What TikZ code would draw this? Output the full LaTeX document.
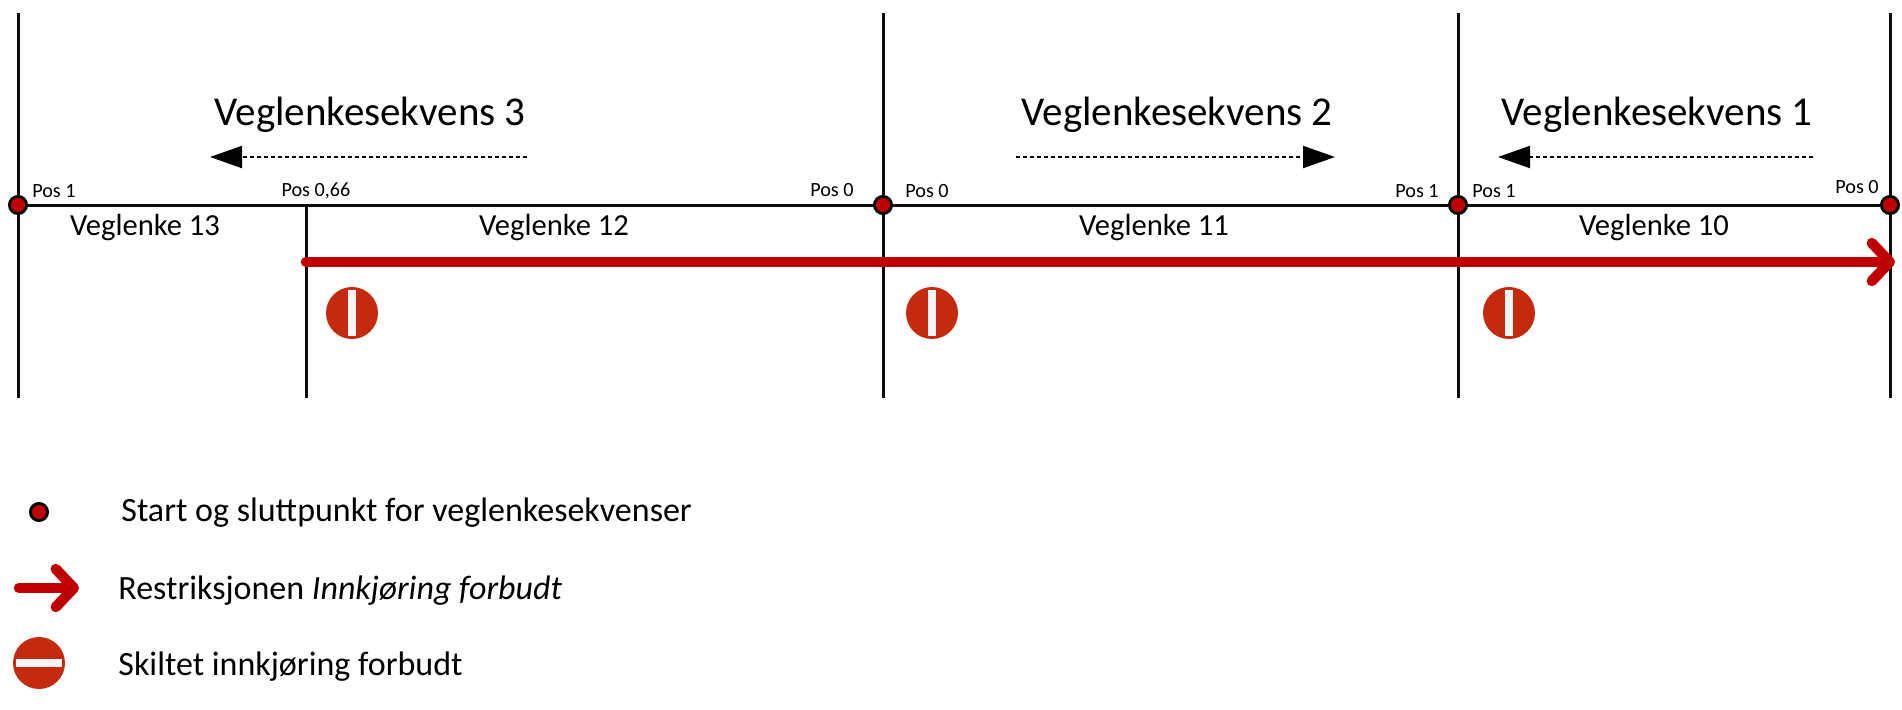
\documentclass[tikz,border=0pt]{standalone}
\usepackage{fontspec}
\setmainfont{Carlito}
\usetikzlibrary{arrows.meta}
\definecolor{restrred}{HTML}{C00000}
\definecolor{signred}{HTML}{C42B0E}
\tikzset{
  road/.style={line width=1.5pt, color=black!95},
  seqlabel/.style={inner sep=0, font=\fontsize{20.5}{24}\selectfont},
  linklabel/.style={inner sep=0, font=\fontsize{15.3}{18}\selectfont},
  poslabel/.style={inner sep=0, font=\fontsize{10.1}{12}\selectfont},
  legendlabel/.style={inner sep=0, anchor=west, font=\fontsize{17}{20}\selectfont},
  endpoint/.style={draw=black, fill=restrred, circle, line width=1.4pt, inner sep=0, minimum size=8.6pt},
  seqarrow/.style={line width=1pt, dash pattern=on 2pt off 1.5pt, -{Triangle[length=16pt,width=11pt]}},
  restrarrow/.style={line width=5.2pt, color=restrred, line cap=round, -{Straight Barb[round,length=9pt,width=19pt]}},
  sign/.style={fill=signred, circle, inner sep=0, minimum size=26pt},
  signbar/.style={fill=white!96!black, inner sep=0, minimum width=4pt, minimum height=23pt},
}
\begin{document}
\begin{tikzpicture}[x=0.5pt, y=-0.5pt]
\useasboundingbox (0,0) rectangle (1902,709);
% Ends of the lines
\coordinate (p1) at (18,205);
\coordinate (p2) at (883,205);
\coordinate (p3) at (1458,205);
\coordinate (p4) at (1890,205);
\coordinate (t1) at (18,13);
\coordinate (t2) at (883,13);
\coordinate (t3) at (1458,13);
\coordinate (t4) at (1890,13);
\coordinate (b1) at (18,398);
\coordinate (b2) at (883,398);
\coordinate (b3) at (1458,398);
\coordinate (b4) at (1890,398);
\coordinate (m) at (306,205);
\coordinate (mb) at (306,398);
% Lines
\draw[road] (p1)--(p4);
\draw[road] (t1)--(b1);
\draw[road] (t2)--(b2);
\draw[road] (t3)--(b3);
\draw[road] (t4)--(b4);
\draw[road] (m)--(mb);
% Restriction
\coordinate (r1) at (306,262);
\coordinate (r2) at (1895,262);
\draw[restrarrow] (r1)--(r2);
% Points
\node[endpoint] (e1) at (p1) {};
\node[endpoint] (e2) at (p2) {};
\node[endpoint] (e3) at (p3) {};
\node[endpoint] (e4) at (p4) {};
% Sequences
\node[seqlabel] (s3) at (370,115) {Veglenkesekvens 3};
\node[seqlabel] (s2) at (1177,115) {Veglenkesekvens 2};
\node[seqlabel] (s1) at (1657,115) {Veglenkesekvens 1};
\coordinate (a3) at (527,157);
\coordinate (c3) at (210,157);
\coordinate (a2) at (1016,157);
\coordinate (c2) at (1335,157);
\coordinate (a1) at (1813,157);
\coordinate (c1) at (1498,157);
\draw[seqarrow] (a3)--(c3);
\draw[seqarrow] (a2)--(c2);
\draw[seqarrow] (a1)--(c1);
% Links
\node[linklabel] (l13) at (145,227) {Veglenke 13};
\node[linklabel] (l12) at (554,227) {Veglenke 12};
\node[linklabel] (l11) at (1154,227) {Veglenke 11};
\node[linklabel] (l10) at (1654,227) {Veglenke 10};
% Positions
\node[poslabel] (q1) at (54,191) {Pos 1};
\node[poslabel] (q2) at (316,191) {Pos 0,66};
\node[poslabel] (q3) at (832,190) {Pos 0};
\node[poslabel] (q4) at (927,191) {Pos 0};
\node[poslabel] (q5) at (1417,191) {Pos 1};
\node[poslabel] (q6) at (1494,191) {Pos 1};
\node[poslabel] (q7) at (1857,187) {Pos 0};
% Signs
\node[sign] (n1) at (352,313) {};
\node[sign] (n2) at (932,313) {};
\node[sign] (n3) at (1509,313) {};
\node[signbar] (o1) at (n1) {};
\node[signbar] (o2) at (n2) {};
\node[signbar] (o3) at (n3) {};
% Legend
\node[endpoint] (k1) at (39,512) {};
\node[legendlabel] (t5) at (121,513) {Start og sluttpunkt for veglenkesekvenser};
\coordinate (r3) at (19,588);
\coordinate (r4) at (79,588);
\draw[restrarrow] (r3)--(r4);
\node[legendlabel] (t6) at (118,591) {Restriksjonen \textit{Innkjøring forbudt}};
\node[sign] (k3) at (39,663) {};
\node[signbar, minimum width=23pt, minimum height=4.4pt] (o4) at (k3) {};
\node[legendlabel] (t7) at (118,667) {Skiltet innkjøring forbudt};
\end{tikzpicture}
\end{document}
